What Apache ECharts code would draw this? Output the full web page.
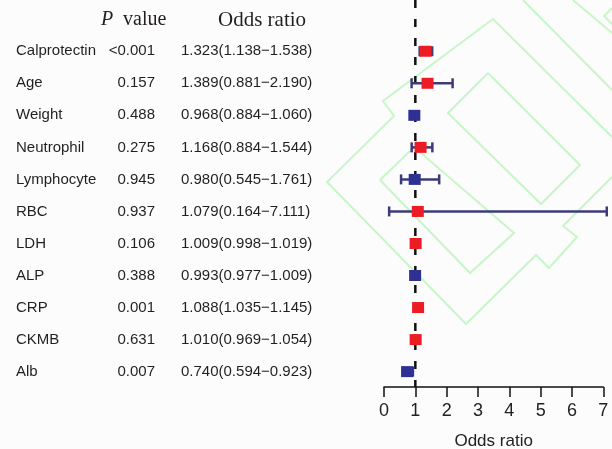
<!DOCTYPE html>
<html>
<head>
<meta charset="utf-8">
<script src="https://cdn.jsdelivr.net/npm/echarts@6/dist/echarts.min.js"></script>
<style>
html,body{margin:0;padding:0;background:#fcfcfc;}
#chart{width:612px;height:449px;}
</style>
</head>
<body>
<div id="chart"></div>
<script>
// ---- data ----
const categories = ['Calprotectin','Age','Weight','Neutrophil','Lymphocyte','RBC','LDH','ALP','CRP','CKMB','Alb'];
const pValues = ['<0.001','0.157','0.488','0.275','0.945','0.937','0.106','0.388','0.001','0.631','0.007'];
const oddsRatio = [1.323,1.389,0.968,1.168,0.980,1.079,1.009,0.993,1.088,1.010,0.740];
const ciLow  = [1.138,0.881,0.884,0.884,0.545,0.164,0.998,0.977,1.035,0.969,0.594];
const ciHigh = [1.538,2.190,1.060,1.544,1.761,7.111,1.019,1.009,1.145,1.054,0.923];
const xTicks = [0,1,2,3,4,5,6,7];
const refLine = 1;

const RED = '#ec1c24', BLUE = '#2e3192', BAR = '#3d3b7a', TXT = '#231f20';
const sans = '"Liberation Sans", Arial, sans-serif';
const serif = '"Liberation Serif", "Times New Roman", serif';

const errData = categories.map((c,i)=>[ciLow[i], ciHigh[i], i]);
const ptData = categories.map((c,i)=>[oddsRatio[i], i]);
const tableData = categories.map((c,i)=>[0, i]);

const wm = '#c8f6c8';
function poly(points){
  return {type:'polyline', silent:true, z:-10, shape:{points}, style:{stroke:wm, fill:null, lineWidth:2}};
}

const chart = echarts.init(document.getElementById('chart'), null, {renderer:'canvas'});
chart.setOption({
  animation:false,
  backgroundColor:'#fcfcfc',
  grid:{left:384, right:8.7, top:0, bottom:62, containLabel:false, outerBoundsMode:'none'},
  xAxis:{
    type:'value', min:xTicks[0], max:xTicks[xTicks.length-1], interval:1,
    splitLine:{show:false},
    axisLine:{show:true, onZero:false, lineStyle:{color:'#111', width:1.5}},
    axisTick:{show:true, length:10, lineStyle:{color:'#111', width:1.5}},
    axisLabel:{fontSize:18, color:'#222', margin:15, fontFamily:sans},
    name:'Odds ratio', nameLocation:'middle', nameGap:46,
    nameTextStyle:{fontSize:17, color:'#222', fontFamily:sans}
  },
  yAxis:{type:'value', show:false, inverse:true, min:-1.60, max:10.48},
  graphic:[
    poly([[488,73],[580,165],[541,204],[448,113],[488,73]]),
    poly([[612,137],[493,19],[383,101],[394,116],[327,182],[466,324],[536,255],[549,268],[577,237],[563,226],[612,177]]),
    poly([[380,180],[414,147],[514,233],[470,273],[380,180]]),
    poly([[523,0],[612,90]]),
    poly([[573,0],[612,33]]),
    poly([[612,8],[604,16],[612,24]]),
    {type:'text', left:101, top:10, style:{text:'P', font:'italic 20px '+serif, fill:TXT}},
    {type:'text', left:123, top:10, style:{text:'value', font:'20px '+serif, fill:TXT}},
    {type:'text', left:218, top:10, style:{text:'Odds ratio', font:'21px '+serif, fill:TXT}}
  ],
  series:[
    {
      type:'custom', name:'table', clip:false, silent:true, z:5,
      data:tableData, encode:{x:0, y:1},
      renderItem:function(params, api){
        const i = api.value(1);
        const y = api.coord([0, i])[1];
        const font = '15px ' + sans;
        const orText = oddsRatio[i].toFixed(3)+'('+ciLow[i].toFixed(3)+'\u2212'+ciHigh[i].toFixed(3)+')';
        return {type:'group', children:[
          {type:'text', style:{text:categories[i], x:16, y:y, font:font, fill:TXT, align:'left', verticalAlign:'middle'}},
          {type:'text', style:{text:pValues[i], x:155, y:y, font:font, fill:TXT, align:'right', verticalAlign:'middle'}},
          {type:'text', style:{text:orText, x:181, y:y, font:font, fill:TXT, align:'left', verticalAlign:'middle'}}
        ]};
      }
    },
    {
      type:'custom', name:'ref', clip:false, silent:true, z:1,
      data:[[refLine]], encode:{x:0},
      renderItem:function(params, api){
        const cs = params.coordSys;
        const x = api.coord([api.value(0), 0])[0];
        return {type:'line', shape:{x1:x, y1:cs.y, x2:x, y2:cs.y+cs.height},
                style:{stroke:'#111', lineWidth:2.5, lineDash:[8,11]}};
      }
    },
    {
      type:'custom', name:'ci', clip:false, silent:true, z:2,
      data:errData, encode:{x:[0,1], y:2},
      renderItem:function(params, api){
        const i = api.value(2);
        const p1 = api.coord([api.value(0), i]);
        const p2 = api.coord([api.value(1), i]);
        const st = {stroke:BAR, lineWidth:2.5};
        return {type:'group', children:[
          {type:'line', shape:{x1:p1[0], y1:p1[1], x2:p2[0], y2:p2[1]}, style:st},
          {type:'line', shape:{x1:p1[0], y1:p1[1]-5, x2:p1[0], y2:p1[1]+5}, style:st},
          {type:'line', shape:{x1:p2[0], y1:p2[1]-5, x2:p2[0], y2:p2[1]+5}, style:st}
        ]};
      }
    },
    {
      type:'scatter', name:'or', z:4, silent:true,
      symbol:'rect', symbolSize:[12,11],
      data:ptData,
      itemStyle:{opacity:1, color:function(p){ return p.value[0] > 1 ? RED : BLUE; }}
    }
  ]
});
</script>
</body>
</html>
